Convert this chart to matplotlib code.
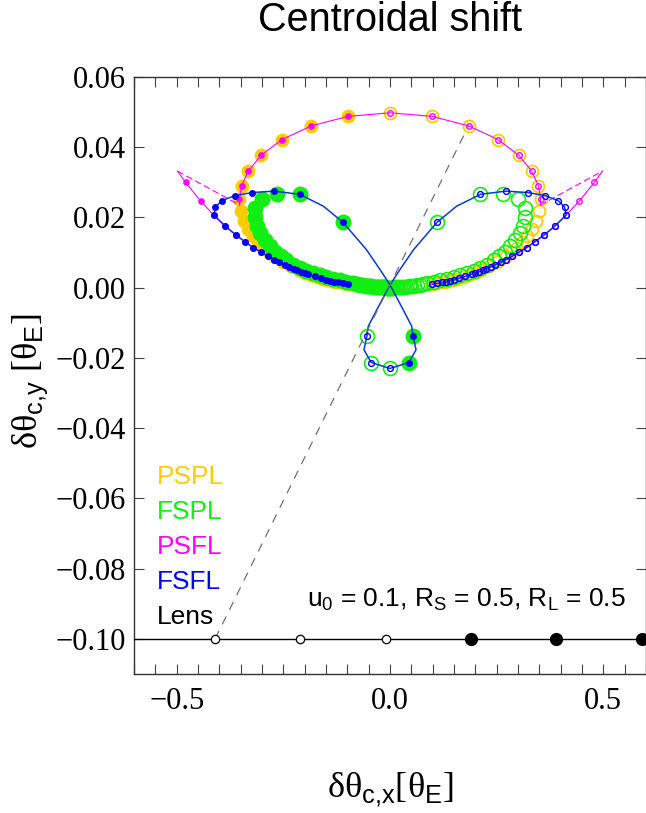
import matplotlib
matplotlib.use("Agg")
import matplotlib.pyplot as plt
from matplotlib.ticker import FixedLocator, MultipleLocator, FuncFormatter

plt.rcParams['mathtext.fontset'] = 'custom'
plt.rcParams['mathtext.rm'] = 'Liberation Sans'
plt.rcParams['mathtext.it'] = 'Liberation Sans:italic'
plt.rcParams['mathtext.sf'] = 'Liberation Sans'

# ---- PSPL (gold): filled before closest approach, open after ----
pspl_pre_x = [-0.098, -0.184, -0.253, -0.302, -0.332, -0.348, -0.353, -0.350, -0.343, -0.333,
              -0.321, -0.309, -0.297, -0.284, -0.273, -0.251, -0.231, -0.214, -0.199, -0.185,
              -0.171, -0.158, -0.147, -0.137, -0.129, -0.121, -0.108, -0.098]
pspl_pre_y = [0.0488, 0.0461, 0.0422, 0.0377, 0.0332, 0.0290, 0.0252, 0.0219, 0.0191, 0.0166,
              0.0146, 0.0129, 0.0114, 0.0102, 0.0091, 0.0074, 0.0061, 0.0051, 0.0043, 0.0037,
              0.0031, 0.0026, 0.0023, 0.0020, 0.0017, 0.0015, 0.0012, 0.0010]
pspl_post_x = [0.000, 0.098, 0.184, 0.253, 0.302, 0.332, 0.348, 0.353, 0.350, 0.343,
               0.333, 0.321, 0.309, 0.297, 0.284, 0.273, 0.251, 0.231, 0.214, 0.199,
               0.185, 0.171, 0.158, 0.147, 0.137, 0.129, 0.121, 0.108, 0.098]
pspl_post_y = [0.0498, 0.0488, 0.0461, 0.0422, 0.0377, 0.0332, 0.0290, 0.0252, 0.0219, 0.0191,
               0.0166, 0.0146, 0.0129, 0.0114, 0.0102, 0.0091, 0.0074, 0.0061, 0.0051, 0.0043,
               0.0037, 0.0031, 0.0026, 0.0023, 0.0020, 0.0017, 0.0015, 0.0012, 0.0010]

# ---- FSPL (green) ----
fspl_pre_x = [0.044, 0.054, -0.110, -0.212, -0.266, -0.300, -0.316, -0.317, -0.311, -0.304,
              -0.293, -0.282, -0.270, -0.256, -0.243, -0.227, -0.211, -0.196, -0.180, -0.164,
              -0.149, -0.133, -0.117, -0.102, -0.086, -0.078, -0.070, -0.063, -0.056, -0.050,
              -0.044, -0.038, -0.033, -0.028, -0.023, -0.019, -0.015, -0.011, -0.008, -0.005, -0.003]
fspl_pre_y = [-0.0213, -0.0137, 0.0186, 0.0266, 0.0266, 0.0252, 0.0228, 0.0201, 0.0176, 0.0155,
              0.0135, 0.0118, 0.0103, 0.0089, 0.0078, 0.0066, 0.0056, 0.0048, 0.0042, 0.0036,
              0.0030, 0.0026, 0.0021, 0.0017, 0.0013, 0.0011, 0.0009, 0.0008, 0.0006, 0.0005,
              0.0004, 0.0003, 0.0003, 0.0002, 0.0002, 0.0001, 0.0001, 0.0001, 0.0000, 0.0000, 0.0000]
fspl_post_x = [0.000, -0.044, -0.054, 0.110, 0.212, 0.266, 0.300, 0.316, 0.317, 0.311,
               0.304, 0.293, 0.282, 0.270, 0.256, 0.243, 0.227, 0.211, 0.196, 0.180,
               0.164, 0.149, 0.133, 0.117, 0.102, 0.086, 0.078, 0.070, 0.063, 0.056,
               0.050, 0.044, 0.038, 0.033, 0.028, 0.023, 0.019, 0.015, 0.011, 0.008, 0.005, 0.003]
fspl_post_y = [-0.0230, -0.0213, -0.0137, 0.0186, 0.0266, 0.0266, 0.0252, 0.0228, 0.0201, 0.0176,
               0.0155, 0.0135, 0.0118, 0.0103, 0.0089, 0.0078, 0.0066, 0.0056, 0.0048, 0.0042,
               0.0036, 0.0030, 0.0026, 0.0021, 0.0017, 0.0013, 0.0011, 0.0009, 0.0008, 0.0006,
               0.0005, 0.0004, 0.0003, 0.0003, 0.0002, 0.0002, 0.0001, 0.0001, 0.0001, 0.0000, 0.0000, 0.0000]

# ---- occulted tails (shared by PSFL and FSFL) ----
tail_left_x = [-0.099, -0.110, -0.123, -0.131, -0.140, -0.150, -0.162, -0.176, -0.193, -0.200,
               -0.208, -0.217, -0.226, -0.236, -0.247, -0.259, -0.272, -0.287, -0.302, -0.320,
               -0.340, -0.362, -0.386, -0.413]
tail_left_y = [0.0010, 0.0012, 0.0015, 0.0017, 0.0020, 0.0023, 0.0027, 0.0032, 0.0039, 0.0042,
               0.0045, 0.0049, 0.0054, 0.0059, 0.0065, 0.0072, 0.0080, 0.0090, 0.0101, 0.0114,
               0.0131, 0.0151, 0.0175, 0.0207]
tail_right_x = [0.413, 0.386, 0.362, 0.340, 0.320, 0.302, 0.287, 0.272, 0.259, 0.247,
                0.236, 0.226, 0.217, 0.208, 0.200, 0.193, 0.176, 0.162, 0.150, 0.140,
                0.131, 0.123, 0.110, 0.099]
tail_right_y = [0.0207, 0.0175, 0.0151, 0.0131, 0.0114, 0.0101, 0.0090, 0.0080, 0.0072, 0.0065,
                0.0059, 0.0054, 0.0049, 0.0045, 0.0042, 0.0039, 0.0032, 0.0027, 0.0023, 0.0020,
                0.0017, 0.0015, 0.0012, 0.0010]

# ---- PSFL (magenta) ----
psfl_outer_left_x = [-0.444, -0.479]
psfl_outer_left_y = [0.0247, 0.0300]
psfl_outer_right_x = [0.479, 0.444]
psfl_outer_right_y = [0.0300, 0.0247]
psfl_arc_pre_x = [-0.353, -0.348, -0.332, -0.302, -0.253, -0.184, -0.098]
psfl_arc_pre_y = [0.0252, 0.0290, 0.0332, 0.0377, 0.0422, 0.0461, 0.0488]
psfl_arc_post_x = [0.000, 0.098, 0.184, 0.253, 0.302, 0.332, 0.348, 0.353]
psfl_arc_post_y = [0.0498, 0.0488, 0.0461, 0.0422, 0.0377, 0.0332, 0.0290, 0.0252]
jump_left_x = [-0.498, -0.352]
jump_left_y = [0.0332, 0.0235]
jump_right_x = [0.352, 0.498]
jump_right_y = [0.0235, 0.0332]

# ---- FSFL (blue) ----
fsfl_loop_pre_x = [-0.409, -0.394, -0.364, -0.323, -0.272, -0.212, -0.110, 0.054, 0.044]
fsfl_loop_pre_y = [0.0230, 0.0248, 0.0262, 0.0271, 0.0275, 0.0266, 0.0186, -0.0137, -0.0213]
fsfl_loop_post_x = [0.000, -0.044, -0.054, 0.110, 0.212, 0.272, 0.323, 0.364, 0.394, 0.409]
fsfl_loop_post_y = [-0.0230, -0.0213, -0.0137, 0.0186, 0.0266, 0.0275, 0.0271, 0.0262, 0.0248, 0.0230]
fsfl_path_x = [-0.409, -0.394, -0.364, -0.323, -0.272, -0.212, -0.156, -0.110, -0.055, -0.023,
               0.000, 0.031, 0.051, 0.054, 0.061, 0.044, 0.000, -0.044, -0.061, -0.054,
               -0.051, -0.031, 0.000, 0.023, 0.055, 0.110, 0.156, 0.212, 0.272, 0.323,
               0.364, 0.394, 0.409]
fsfl_path_y = [0.0230, 0.0248, 0.0262, 0.0271, 0.0275, 0.0266, 0.0232, 0.0186, 0.0108, 0.0051,
               0.0008, -0.0063, -0.0110, -0.0137, -0.0177, -0.0213, -0.0230, -0.0213, -0.0177, -0.0137,
               -0.0110, -0.0063, 0.0008, 0.0051, 0.0108, 0.0186, 0.0232, 0.0266, 0.0275, 0.0271,
               0.0262, 0.0248, 0.0230]

# ---- lens ----
lens_x = [-0.41, -0.21, -0.01, 0.19, 0.39, 0.59]
lens_y = [-0.10, -0.10, -0.10, -0.10, -0.10, -0.10]
lens_filled = [False, False, False, True, True, True]

legend_names = ['PSPL', 'FSPL', 'PSFL', 'FSFL', 'Lens']
legend_y = [-0.0558, -0.0659, -0.0757, -0.0858, -0.0957]

GOLD = '#FFCC00'
GREEN = '#11EE11'
MAG = '#FF00FF'
BLUE = '#0000FF'
BLUE_LINE = '#0A3CC8'

fig = plt.figure(figsize=(6.46, 8.13), dpi=100)
ax = fig.add_axes([134 / 646, 1 - 674 / 813, (646 - 134) / 646, (674 - 77) / 813])
ax.set_xlim(-0.6, 0.6)
ax.set_ylim(-0.11, 0.06)

# PSPL
ax.plot(pspl_pre_x, pspl_pre_y, 'o', ms=10, mfc=GOLD, mec=GOLD, mew=0, zorder=2)
ax.plot(pspl_post_x, pspl_post_y, 'o', ms=8.6, mfc='none', mec=GOLD, mew=1.3, zorder=2)

# FSPL
ax.plot(fspl_pre_x, fspl_pre_y, 'o', ms=11.5, mfc=GREEN, mec=GREEN, mew=0, zorder=3)
ax.plot(fspl_post_x, fspl_post_y, 'o', ms=10, mfc='none', mec=GREEN, mew=1.2, zorder=3)

# PSFL lines
ax.plot(tail_left_x + psfl_outer_left_x + jump_left_x[:1],
        tail_left_y + psfl_outer_left_y + jump_left_y[:1], '-', color=MAG, lw=0.8, zorder=4)
ax.plot(jump_left_x, jump_left_y, color=MAG, lw=0.8, ls=(0, (6, 3)), zorder=4)
ax.plot(jump_left_x[1:] + psfl_arc_pre_x + psfl_arc_post_x + jump_right_x[:1],
        jump_left_y[1:] + psfl_arc_pre_y + psfl_arc_post_y + jump_right_y[:1],
        '-', color=MAG, lw=0.8, zorder=4)
ax.plot(jump_right_x, jump_right_y, color=MAG, lw=0.8, ls=(0, (6, 3)), zorder=4)
ax.plot(jump_right_x[1:] + psfl_outer_right_x + tail_right_x,
        jump_right_y[1:] + psfl_outer_right_y + tail_right_y, '-', color=MAG, lw=0.8, zorder=4)

# PSFL markers
ax.plot(tail_left_x + psfl_outer_left_x + psfl_arc_pre_x,
        tail_left_y + psfl_outer_left_y + psfl_arc_pre_y,
        'o', ms=4.8, mfc=MAG, mec=MAG, mew=0, zorder=5)
ax.plot(psfl_arc_post_x + psfl_outer_right_x + tail_right_x,
        psfl_arc_post_y + psfl_outer_right_y + tail_right_y,
        'o', ms=4.0, mfc='none', mec=MAG, mew=1.0, zorder=5)

# FSFL line and markers
ax.plot(tail_left_x + fsfl_path_x + tail_right_x,
        tail_left_y + fsfl_path_y + tail_right_y, '-', color=BLUE_LINE, lw=1.1, zorder=6)
ax.plot(tail_left_x + fsfl_loop_pre_x, tail_left_y + fsfl_loop_pre_y,
        'o', ms=5.0, mfc=BLUE, mec=BLUE, mew=0, zorder=7)
ax.plot(fsfl_loop_post_x + tail_right_x, fsfl_loop_post_y + tail_right_y,
        'o', ms=4.2, mfc='none', mec=BLUE, mew=1.0, zorder=7)

# lens trajectory and its link to the source centroid
ax.axhline(lens_y[0], color='black', lw=1.0, zorder=8)
ax.plot([lens_x[0], pspl_post_x[2]], [lens_y[0], pspl_post_y[2]],
        color='#707070', lw=0.9, ls=(0, (7, 6)), zorder=9)
for lx, ly, filled in zip(lens_x, lens_y, lens_filled):
    if filled:
        ax.plot(lx, ly, 'o', ms=9.5, mfc='black', mec='black', mew=0, zorder=10, clip_on=False)
    else:
        ax.plot(lx, ly, 'o', ms=6.0, mfc='white', mec='black', mew=0.9, zorder=10)

# legend-like labels
legend_colors = [GOLD, GREEN, MAG, BLUE, 'black']
for name, yy, c in zip(legend_names, legend_y, legend_colors):
    ax.text(-0.547, yy, name, color=c, fontsize=19, family='Liberation Sans',
            ha='left', va='baseline', zorder=11)
ax.text(-0.195, -0.0908, 'u$_{0}$ = 0.1, R$_{\\mathsf{S}}$ = 0.5, R$_{\\mathsf{L}}$ = 0.5',
        fontsize=19, family='Liberation Sans', ha='left', va='baseline', zorder=11)

# axes styling
def fmt1(v, pos):
    s = '%.1f' % v
    if s == '-0.0':
        s = '0.0'
    return s.replace('-', '\u2212')

def fmt2(v, pos):
    s = '%.2f' % v
    if s == '-0.00':
        s = '0.00'
    return s.replace('-', '\u2212')

ax.xaxis.set_major_locator(FixedLocator([-0.5, 0.0, 0.5]))
ax.xaxis.set_minor_locator(MultipleLocator(0.05))
ax.yaxis.set_major_locator(FixedLocator([-0.10, -0.08, -0.06, -0.04, -0.02, 0.0, 0.02, 0.04, 0.06]))
ax.xaxis.set_major_formatter(FuncFormatter(fmt1))
ax.yaxis.set_major_formatter(FuncFormatter(fmt2))
ax.tick_params(which='both', direction='in', top=True, right=True, length=7,
               width=0.8, color='#444444')
ax.tick_params(axis='x', which='major', pad=9)
ax.tick_params(axis='y', which='major', pad=6)
for lab in ax.get_xticklabels() + ax.get_yticklabels():
    lab.set_fontfamily('Liberation Serif')
    lab.set_fontsize(22)
for sp in ax.spines.values():
    sp.set_linewidth(1.0)
    sp.set_color('#333333')

fig.text(390 / 646, 1 - 20 / 813, 'Centroidal shift', ha='center', va='center',
         fontsize=28.5, family='Liberation Sans')
fig.text(390 / 646, 1 - 790 / 813, 'δθ$_{\\mathsf{c{,}x}}$[θ$_{\\mathsf{E}}$]',
         ha='center', va='center', fontsize=26, family='Liberation Serif')
fig.text(30 / 646, 1 - 381 / 813, 'δθ$_{\\mathsf{c{,}y}}$ [θ$_{\\mathsf{E}}$]',
         ha='center', va='center', rotation=90, fontsize=26, family='Liberation Serif')

fig.savefig('out.png', dpi=100)
